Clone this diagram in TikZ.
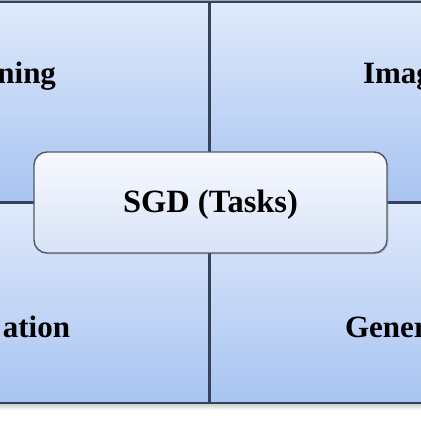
\documentclass[tikz,border=0pt]{standalone}
\usepackage{fontspec}
\setmainfont{Liberation Serif}
\usetikzlibrary{positioning,shadows}
\definecolor{quadtop}{HTML}{DFE9FB}
\definecolor{quadbot}{HTML}{A8C4F1}
\definecolor{quadline}{HTML}{34425A}
\definecolor{hubtop}{HTML}{F7F9FE}
\definecolor{hubbot}{HTML}{D8E3F7}
\definecolor{hubline}{HTML}{525966}
\definecolor{rimgray}{HTML}{A2A7AF}

\begin{document}
\begin{tikzpicture}[inner sep=0pt,outer sep=0pt,x=1pt,y=1pt]
  \tikzstyle{quad}=[rectangle,draw=quadline,line width=2.1pt,top color=quadtop,bottom color=quadbot,minimum width=240pt,minimum height=200.5pt]
  \tikzstyle{hub}=[rectangle,rounded corners=13pt,draw=hubline,line width=1.4pt,top color=hubtop,bottom color=hubbot,minimum width=353pt,minimum height=101pt,text height=24pt,text depth=3pt,font=\fontsize{32.5}{39}\selectfont\bfseries,drop shadow={opacity=0.25,shadow xshift=1.5pt,shadow yshift=-1.5pt}]
  \tikzstyle{word}=[font=\fontsize{31}{37}\selectfont\bfseries]
  \useasboundingbox (0,0) rectangle (421,421);
  \clip (0,0) rectangle (421,421);
  \fill[rimgray] (0,419) rectangle (421,421);
  \shade[top color=gray!45,bottom color=white] (0,11) rectangle (421,18);
  \foreach\n/\a in{tl/south east,tr/south west,bl/north east,br/north west}{\node[quad,anchor=\a](\n)at(209.5,218.5){};}
  \node[word,anchor=base east](ning)at(56,337){ning};
  \node[word,anchor=base west](imag)at(363,337){Imag};
  \node[word,anchor=base east](ation)at(70,83){ation};
  \node[word,anchor=base west](gener)at(345,83){Gener};
  \node[hub](hub)at(210.5,218.5){SGD (Tasks)};
\end{tikzpicture}
\end{document}
